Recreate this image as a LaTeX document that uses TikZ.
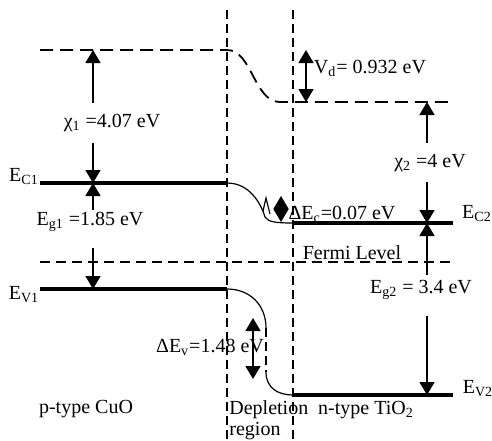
\documentclass[tikz,border=0pt]{standalone}
\usepackage{fontspec}
\setmainfont{Liberation Serif}
\usetikzlibrary{arrows.meta}
\tikzset{
  band/.style={line width=2.4pt},
  vacuum/.style={line width=0.9pt, dash pattern=on 6.5pt off 3.5pt},
  fermiline/.style={line width=0.9pt, dash pattern=on 5pt off 3pt},
  border/.style={line width=0.6pt, dash pattern=on 4.5pt off 2.5pt},
  bending/.style={line width=0.6pt},
  gap/.style={-{Triangle[length=6.5pt,width=7.5pt]}, line width=0.75pt},
  gapboth/.style={{Triangle[length=6.5pt,width=7.5pt]}-{Triangle[length=6.5pt,width=7.5pt]}, line width=0.75pt},
  lbl/.style={font=\fontsize{10}{10.5}\selectfont, inner sep=0pt}
}

\begin{document}
\begin{tikzpicture}[x=0.5pt, y=-0.5pt]
  \useasboundingbox (0,0) rectangle (492,440);
  % junction borders
  \coordinate (sep1t) at (227,10); \coordinate (sep1b) at (227,440);
  \coordinate (sep2t) at (293,10); \coordinate (sep2b) at (293,440);
  \draw[border] (sep1t) -- (sep1b);
  \draw[border] (sep2t) -- (sep2b);
  % vacuum level
  \coordinate (vac1w) at (40,50);  \coordinate (vac1e) at (227,50);
  \coordinate (vac2w) at (280,102); \coordinate (vac2e) at (452,102);
  \draw[vacuum] (vac1w) -- (vac1e) .. controls (252,50) and (254,102) .. (vac2w) -- (vac2e);
  % conduction band
  \coordinate (ec1w) at (40,183);  \coordinate (ec1e) at (227,183);
  \coordinate (ec2w) at (293,223); \coordinate (ec2e) at (453,223);
  \draw[band] (ec1w) -- (ec1e);
  \draw[band] (ec2w) -- (ec2e);
  \draw[bending] (ec1e) .. controls (250,183) and (261,204) .. (265,217) .. controls (268,222) and (276,223) .. (ec2w);
  \draw[bending] (263,211) -- (266,198) -- (270,214);
  % Fermi level
  \coordinate (fermiw) at (40,262); \coordinate (fermie) at (452,262);
  \draw[fermiline] (fermiw) -- (fermie);
  % valence band
  \coordinate (ev1w) at (40,289);  \coordinate (ev1e) at (227,289);
  \coordinate (ev2w) at (293,395); \coordinate (ev2e) at (453,395);
  \coordinate (evk1) at (266,328); \coordinate (evk2) at (266,372);
  \draw[band] (ev1w) -- (ev1e);
  \draw[band] (ev2w) -- (ev2e);
  \draw[bending] (ev1e) .. controls (250,289) and (266,305) .. (evk1);
  \draw[border] (evk1) -- (evk2);
  \draw[bending] (evk2) .. controls (266,388) and (278,395) .. (ev2w);
  % energy gaps
  \coordinate (chi1u) at (93,103); \coordinate (chi1d) at (93,143);
  \coordinate (eg1u) at (93,210);  \coordinate (eg1d) at (93,248);
  \coordinate (chi2u) at (427,143); \coordinate (chi2d) at (427,182);
  \coordinate (eg2u) at (427,275);  \coordinate (eg2d) at (427,316);
  \draw[gap] (chi1u) -- (chi1u |- vac1w);
  \draw[gap] (chi1d) -- (chi1d |- ec1w);
  \draw[gap] (eg1u) -- (eg1u |- ec1w);
  \draw[gap] (eg1d) -- (eg1d |- ev1w);
  \draw[gap] (chi2u) -- (chi2u |- vac2w);
  \draw[gap] (chi2d) -- (chi2d |- ec2w);
  \draw[gap] (eg2u) -- (eg2u |- ec2w);
  \draw[gap] (eg2d) -- (eg2d |- ev2w);
  \coordinate (vdt) at (306,50);   \coordinate (vdb) at (306,102);
  \coordinate (dect) at (281,196); \coordinate (decb) at (281,222);
  \coordinate (devt) at (253,318); \coordinate (devb) at (253,379);
  \foreach \s/\e in {vdt/vdb, dect/decb, devt/devb}{\draw[gapboth] (\s) -- (\e);}
  % labels
  \node[lbl] (ec1) at (24,177) {E\textsubscript{C1}};
  \node[lbl] (ev1) at (24,295) {E\textsubscript{V1}};
  \node[lbl] (ec2) at (477,214) {E\textsubscript{C2}};
  \node[lbl] (ev2) at (478,389) {E\textsubscript{V2}};
  \node[lbl] (chi1) at (112,123) {χ\textsubscript{1} =4.07 eV};
  \node[lbl] (eg1) at (90,222) {E\textsubscript{g1} =1.85 eV};
  \node[lbl] (vd) at (370,68) {V\textsubscript{d}= 0.932 eV};
  \node[lbl] (chi2) at (430,163) {χ\textsubscript{2} =4 eV};
  \node[lbl] (dec) at (342,214) {ΔE\textsubscript{c}=0.07 eV};
  \node[lbl] (fermi) at (352,253) {Fermi Level};
  \node[lbl] (eg2) at (421,290) {E\textsubscript{g2} = 3.4 eV};
  \node[lbl] (dev) at (210,347) {ΔE\textsubscript{v}=1.48 eV};
  \node[lbl] (pcuo) at (86,409) {p-type CuO};
  \node[lbl, anchor=north west, align=left] (depl) at (229,400) {Depletion\\region};
  \node[lbl] (ntio) at (366,410) {n-type TiO\textsubscript{2}};
\end{tikzpicture}
\end{document}
